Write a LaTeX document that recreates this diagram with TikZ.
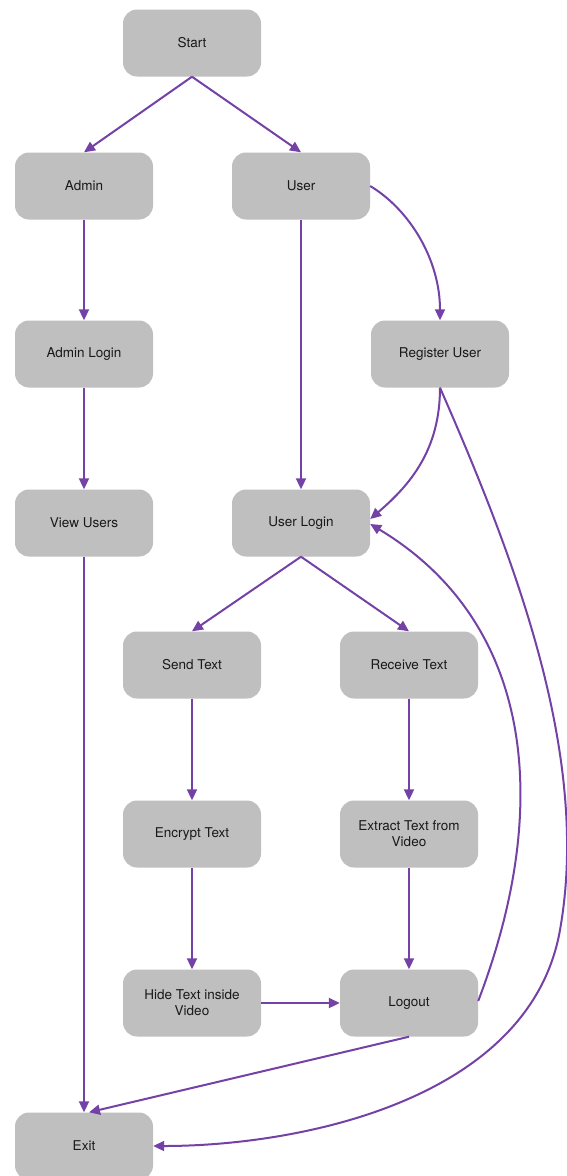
\documentclass[tikz,border=0pt]{standalone}
\usepackage{fontspec}
\setmainfont{TeX Gyre Heros}
\usetikzlibrary{arrows.meta}
\definecolor{boxgray}{HTML}{BFBFBF}
\definecolor{flowpurple}{HTML}{7442A6}
\begin{document}
\begin{tikzpicture}[x=1pt,y=-1pt,
  box/.style={fill=boxgray, draw=none, rounded corners=14pt, minimum width=138pt, minimum height=67pt, inner sep=2pt, align=center, font=\fontsize{13.5}{16}\selectfont, text=black!90},
  flow/.style={draw=flowpurple, line width=2pt, -{Triangle[length=11pt,width=10pt]}}]
\useasboundingbox (0,0) rectangle (566,1176);
\node[box] (Start) at (192,43) {Start};
\node[box] (Admin) at (84,186) {Admin};
\node[box] (User) at (301,186) {User};
\node[box] (AdminLogin) at (84,354) {Admin Login};
\node[box] (Register) at (440,354) {Register User};
\node[box] (ViewUsers) at (84,523) {View Users};
\node[box] (UserLogin) at (301,523) {User Login};
\node[box] (Send) at (192,665) {Send Text};
\node[box] (Receive) at (409,665) {Receive Text};
\node[box] (Encrypt) at (192,834) {Encrypt Text};
\node[box] (Extract) at (409,834) {Extract Text from\\Video};
\node[box] (Hide) at (192,1003) {Hide Text inside\\Video};
\node[box] (Logout) at (409,1003) {Logout};
\node[box] (Exit) at (84,1146) {Exit};

\draw[flow] (Start.south) -- (Admin.north);
\draw[flow] (Start.south) -- (User.north);
\draw[flow] (Admin.south) -- (AdminLogin.north);
\draw[flow] (AdminLogin.south) -- (ViewUsers.north);
\draw[flow] (User.south) -- (UserLogin.north);
\draw[flow] (User.east) .. controls (410,210) and (440,260) .. (Register.north);
\draw[flow] (Register.south) .. controls (440,450) and (410,485) .. ([yshift=4pt]UserLogin.east);
\draw[flow] (Register.south) .. controls (520,570) and (590,760) .. (560,930) .. controls (530,1100) and (300,1146) .. (Exit.east);
\draw[flow] (ViewUsers.south) -- (Exit.north);
\draw[flow] (UserLogin.south) -- (Send.north);
\draw[flow] (UserLogin.south) -- (Receive.north);
\draw[flow] (Send.south) -- (Encrypt.north);
\draw[flow] (Encrypt.south) -- (Hide.north);
\draw[flow] (Receive.south) -- (Extract.north);
\draw[flow] (Extract.south) -- (Logout.north);
\draw[flow] (Hide.east) -- (Logout.west);
\draw[flow] ([yshift=2pt]Logout.east) .. controls (555,800) and (530,620) .. ([yshift=-1pt]UserLogin.east);
\draw[flow] (Logout.south) -- ([xshift=5pt]Exit.north);
\end{tikzpicture}
\end{document}
